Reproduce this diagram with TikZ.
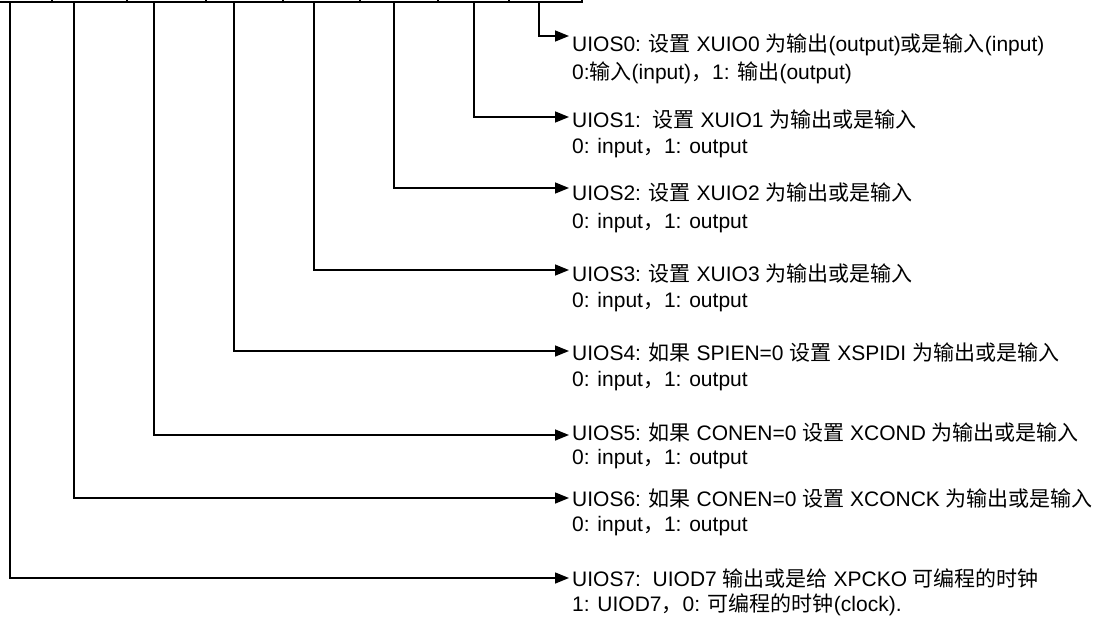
\documentclass[tikz,border=0pt]{standalone}
\usepackage{fontspec}
\setmainfont{Liberation Sans}
\newfontfamily\cjk{Noto Sans CJK SC}
\usetikzlibrary{arrows.meta}
\newcommand\zh[1]{{\cjk #1}}
\begin{document}
\begin{tikzpicture}[x=1pt,y=-1pt,
  conn/.style={line width=1.5pt,-{Triangle[length=14pt,width=11pt]}},
  boxline/.style={line width=2.2pt},
  desc/.style={anchor=base west,inner sep=0pt,font=\fontsize{21}{25}\selectfont}]
\useasboundingbox (0,0) rectangle (1102,621);
\clip (0,0) rectangle (1102,621);
% register box (bottom edge visible)
\draw[boxline] (-40,2) -- (582,2) -- (582,-20);
\foreach \x in {52,127,206,283,360,438,509} \draw[boxline] (\x,2) -- (\x,-20);
% start points on the register
\coordinate (b0) at (539,2);
\coordinate (b1) at (474,2);
\coordinate (b2) at (394,2);
\coordinate (b3) at (314,2);
\coordinate (b4) at (234,2);
\coordinate (b5) at (154,2);
\coordinate (b6) at (74,2);
\coordinate (b7) at (10,2);
% arrow tips
\coordinate (a0) at (569,36);
\coordinate (a1) at (569,117);
\coordinate (a2) at (569,188);
\coordinate (a3) at (569,270);
\coordinate (a4) at (569,351);
\coordinate (a5) at (569,435);
\coordinate (a6) at (569,498);
\coordinate (a7) at (569,578);
% texts
\node[desc] (t0) at (572,51) {UIOS0: \zh{设置} XUIO0 \zh{为输出}(output)\zh{或是输入}(input)};
\node[desc] (u0) at (572,79) {0:\zh{输入}(input)\zh{，}1: \zh{输出}(output)};
\node[desc] (t1) at (572,127) {UIOS1:\ \ \zh{设置} XUIO1 \zh{为输出或是输入}};
\node[desc] (u1) at (572,153) {0: input\zh{，}1: output};
\node[desc] (t2) at (572,200) {UIOS2: \zh{设置} XUIO2 \zh{为输出或是输入}};
\node[desc] (u2) at (572,228) {0: input\zh{，}1: output};
\node[desc] (t3) at (572,281) {UIOS3: \zh{设置} XUIO3 \zh{为输出或是输入}};
\node[desc] (u3) at (572,307) {0: input\zh{，}1: output};
\node[desc] (t4) at (572,360) {UIOS4: \zh{如果} SPIEN=0 \zh{设置} XSPIDI \zh{为输出或是输入}};
\node[desc] (u4) at (572,386) {0: input\zh{，}1: output};
\node[desc] (t5) at (572,440) {UIOS5: \zh{如果} CONEN=0 \zh{设置} XCOND \zh{为输出或是输入}};
\node[desc] (u5) at (572,464) {0: input\zh{，}1: output};
\node[desc] (t6) at (572,506) {UIOS6: \zh{如果} CONEN=0 \zh{设置} XCONCK \zh{为输出或是输入}};
\node[desc] (u6) at (572,531) {0: input\zh{，}1: output};
\node[desc] (t7) at (572,586) {UIOS7:\ \ UIOD7 \zh{输出或是给} XPCKO \zh{可编程的时钟}};
\node[desc] (u7) at (572,611) {1: UIOD7\zh{，}0: \zh{可编程的时钟}(clock).};
% connectors
\foreach \i in {0,...,7} \draw[conn] (b\i) |- (a\i);
\end{tikzpicture}
\end{document}
